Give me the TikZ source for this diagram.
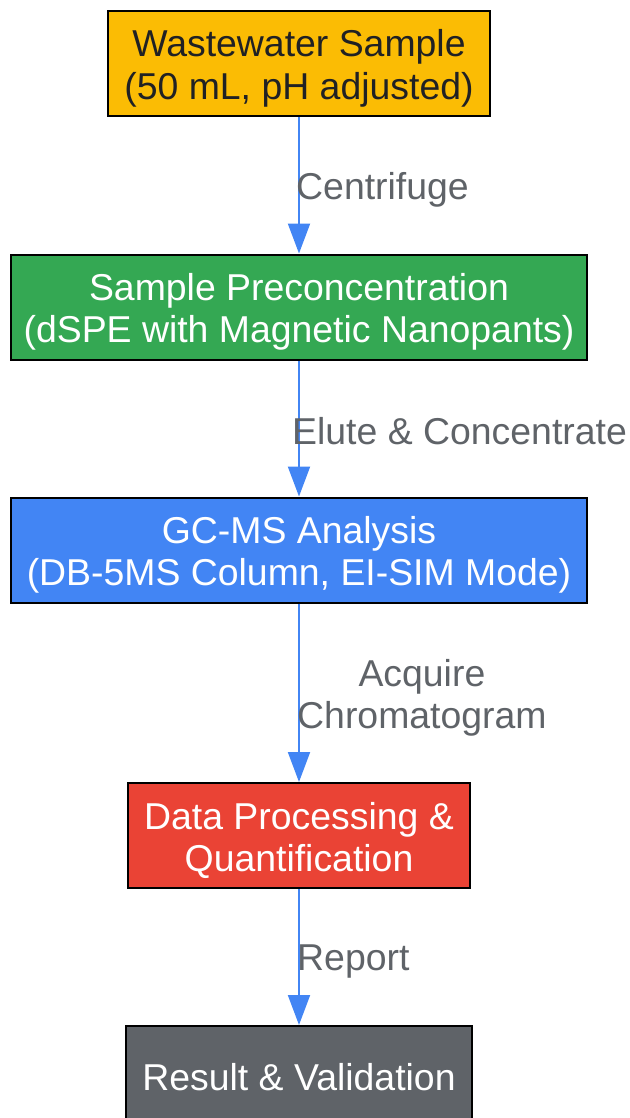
\documentclass[tikz,border=0pt]{standalone}
\usepackage{fontspec}
\setmainfont{Liberation Sans}
\usetikzlibrary{arrows.meta}
\definecolor{cyellow}{HTML}{FBBC04}
\definecolor{cgreen}{HTML}{34A853}
\definecolor{cblue}{HTML}{4285F4}
\definecolor{cred}{HTML}{EA4335}
\definecolor{cgray}{HTML}{5F6368}
\definecolor{cdark}{HTML}{202124}
\begin{document}
\begin{tikzpicture}[x=1pt,y=1pt,
  box/.style={draw=black, line width=2pt, minimum height=105pt, inner sep=0pt},
  txt/.style={inner sep=0pt, align=center, font=\fontsize{37.4}{42.5}\selectfont},
  flow/.style={draw=cblue, line width=2pt, -{Triangle[length=30pt,width=22pt]}},
  lbl/.style={anchor=west, inner sep=0pt, align=center, text=cgray,
    font=\fontsize{37.4}{42.5}\selectfont}]
\useasboundingbox (0,0) rectangle (629,-1118);
\node[box, fill=cyellow, minimum width=382pt] (b1) at (299,-63.5) {};
\node[box, fill=cgreen, minimum width=576pt] (b2) at (299,-307) {};
\node[box, fill=cblue, minimum width=576pt] (b3) at (299,-550) {};
\node[box, fill=cred, minimum width=342pt] (b4) at (299,-835.5) {};
\node[box, fill=cgray, minimum width=346pt] (b5) at (299,-1078.5) {};
\node[txt, text=cdark] (t1) at ([yshift=-5pt]b1.center) {Wastewater Sample\\(50 mL, pH adjusted)};
\node[txt, text=white] (t2) at ([yshift=-5pt]b2.center) {Sample Preconcentration\\(dSPE with Magnetic Nanopants)};
\node[txt, text=white] (t3) at ([yshift=-5pt]b3.center) {GC-MS Analysis\\(DB-5MS Column, EI-SIM Mode)};
\node[txt, text=white] (t4) at ([yshift=-5pt]b4.center) {Data Processing \&\\Quantification};
\node[txt, text=white] (t5) at ([yshift=1pt]b5.center) {Result \& Validation};
\draw[flow] (b1.south) -- (b2.north);
\draw[flow] (b2.south) -- (b3.north);
\draw[flow] (b3.south) -- (b4.north);
\draw[flow] (b4.south) -- (b5.north);
\path (b1.south) -- (b2.north) coordinate[midway] (m1);
\path (b2.south) -- (b3.north) coordinate[midway] (m2);
\path (b3.south) -- (b4.north) coordinate[midway] (m3);
\path (b4.south) -- (b5.north) coordinate[midway] (m4);
\node[lbl] (l1) at ([xshift=-3pt,yshift=-5pt]m1) {Centrifuge};
\node[lbl] (l2) at ([xshift=-7pt,yshift=-3pt]m2) {Elute \& Concentrate};
\node[lbl] (l3) at ([xshift=-2pt,yshift=-5pt]m3) {Acquire\\Chromatogram};
\node[lbl] (l4) at ([xshift=-2pt,yshift=-5pt]m4) {Report};
\end{tikzpicture}
\end{document}
